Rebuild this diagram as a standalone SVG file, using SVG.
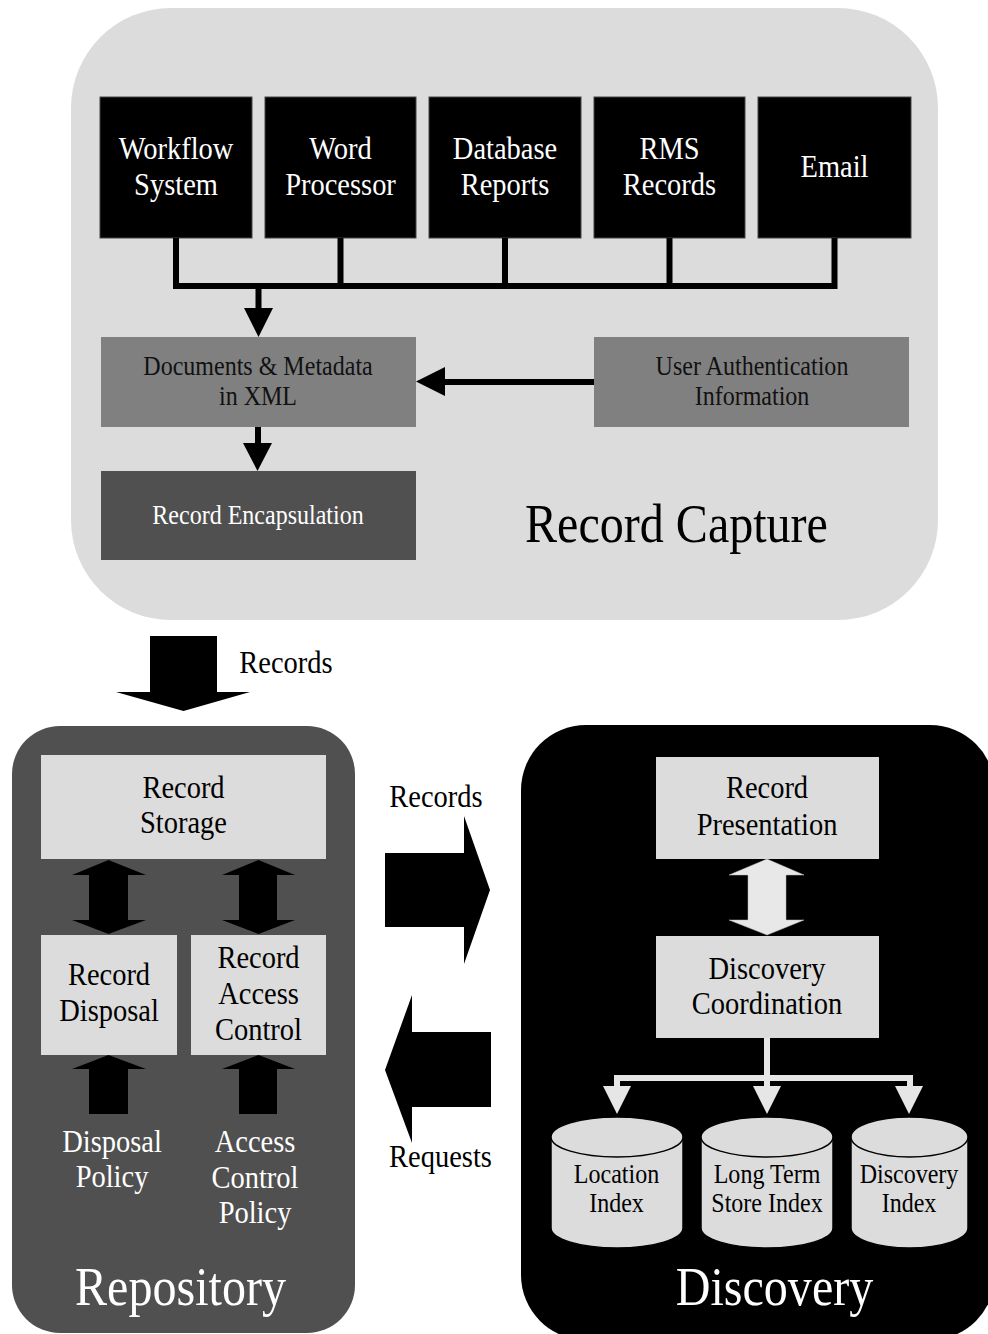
<svg xmlns="http://www.w3.org/2000/svg" width="988" height="1334" viewBox="0 0 988 1334">
<style>
.t{font-family:"Liberation Serif","Times New Roman",serif;text-anchor:middle}
.s27{font-size:27px}.s32{font-size:32px}.s54{font-size:54px}
.w{fill:#ffffff}.k{fill:#000000}.dk{fill:#111111}
.blk{fill:#000000;stroke:#444444;stroke-width:1}
.mid{fill:#808080}.drk{fill:#505050}.lt{fill:#dcdcdc}
.ln{fill:none;stroke:#000000;stroke-width:6}
.wl{fill:none;stroke:#e6e6e6;stroke-width:6}
.ah{fill:#000000}.wah{fill:#e6e6e6}
.cyl{fill:#dcdcdc;stroke:#000000;stroke-width:1.5}
</style>
<rect width="988" height="1334" fill="#ffffff"/>
<g id="record-capture">
<rect x="71" y="8" width="867" height="612" rx="100" ry="100" fill="#dcdcdc"/>
<text class="t s54 k" transform="translate(676.5 0) scale(.89 1)" y="542">Record Capture</text>
</g>
<g id="repository">
<rect x="12" y="726" width="343" height="607" rx="48" ry="48" fill="#505050"/>
<text class="t s54 w" transform="translate(180.5 0) scale(.89 1)" y="1305">Repository</text>
</g>
<g id="discovery">
<rect x="521" y="725" width="474" height="615" rx="65" ry="65" fill="#000000"/>
<text class="t s54 w" transform="translate(774.5 0) scale(.89 1)" y="1305">Discovery</text>
</g>
<g id="workflow"><rect class="blk" x="100" y="97" width="152" height="141"/>
<text class="t s32 w" transform="translate(176 0) scale(.89 1)"><tspan x="0" y="159">Workflow</tspan><tspan x="0" y="195">System</tspan></text></g>
<g id="word"><rect class="blk" x="265" y="97" width="151" height="141"/>
<text class="t s32 w" transform="translate(340.5 0) scale(.89 1)"><tspan x="0" y="159">Word</tspan><tspan x="0" y="195">Processor</tspan></text></g>
<g id="database"><rect class="blk" x="429" y="97" width="152" height="141"/>
<text class="t s32 w" transform="translate(505 0) scale(.89 1)"><tspan x="0" y="159">Database</tspan><tspan x="0" y="195">Reports</tspan></text></g>
<g id="rms"><rect class="blk" x="594" y="97" width="151" height="141"/>
<text class="t s32 w" transform="translate(669.5 0) scale(.89 1)"><tspan x="0" y="159">RMS</tspan><tspan x="0" y="195">Records</tspan></text></g>
<g id="email"><rect class="blk" x="758" y="97" width="153" height="141"/>
<text class="t s32 w" transform="translate(834.5 0) scale(.89 1)" y="177">Email</text></g>
<g id="documents"><rect class="mid" x="101" y="337" width="315" height="90"/>
<text class="t s27 dk" transform="translate(258 0) scale(.89 1)"><tspan x="0" y="375">Documents &amp; Metadata</tspan><tspan x="0" y="405">in XML</tspan></text></g>
<g id="user-auth"><rect class="mid" x="594" y="337" width="315" height="90"/>
<text class="t s27 dk" transform="translate(752 0) scale(.89 1)"><tspan x="0" y="375">User Authentication</tspan><tspan x="0" y="405">Information</tspan></text></g>
<g id="encapsulation"><rect class="drk" x="101" y="471" width="315" height="89"/>
<text class="t s27 w" transform="translate(258 0) scale(.89 1)" y="524">Record Encapsulation</text></g>
<g id="record-storage"><rect class="lt" x="41" y="755" width="285" height="104"/>
<text class="t s32 k" transform="translate(183.5 0) scale(.89 1)"><tspan x="0" y="798">Record</tspan><tspan x="0" y="833">Storage</tspan></text></g>
<g id="record-disposal"><rect class="lt" x="41" y="935" width="136" height="120"/>
<text class="t s32 k" transform="translate(109 0) scale(.89 1)"><tspan x="0" y="985">Record</tspan><tspan x="0" y="1021">Disposal</tspan></text></g>
<g id="record-access"><rect class="lt" x="191" y="935" width="135" height="120"/>
<text class="t s32 k" transform="translate(258.5 0) scale(.89 1)"><tspan x="0" y="968">Record</tspan><tspan x="0" y="1004">Access</tspan><tspan x="0" y="1040">Control</tspan></text></g>
<g id="disposal-policy">
<text class="t s32 w" transform="translate(112 0) scale(.89 1)"><tspan x="0" y="1152">Disposal</tspan><tspan x="0" y="1187">Policy</tspan></text></g>
<g id="access-policy">
<text class="t s32 w" transform="translate(255 0) scale(.89 1)"><tspan x="0" y="1152">Access</tspan><tspan x="0" y="1188">Control</tspan><tspan x="0" y="1223">Policy</tspan></text></g>
<g id="record-presentation"><rect class="lt" x="656" y="757" width="223" height="102"/>
<text class="t s32 k" transform="translate(767 0) scale(.89 1)"><tspan x="0" y="798">Record</tspan><tspan x="0" y="835">Presentation</tspan></text></g>
<g id="discovery-coordination"><rect class="lt" x="656" y="936" width="223" height="102"/>
<text class="t s32 k" transform="translate(767 0) scale(.89 1)"><tspan x="0" y="979">Discovery</tspan><tspan x="0" y="1014">Coordination</tspan></text></g>
<g id="location-index">
<path class="cyl" d="M551 1137 V1228 A66 20 0 0 0 683 1228 V1137"/>
<ellipse class="cyl" cx="617" cy="1137" rx="66" ry="20"/>
<text class="t s27 k" transform="translate(616.5 0) scale(.89 1)"><tspan x="0" y="1183">Location</tspan><tspan x="0" y="1212">Index</tspan></text></g>
<g id="long-term-index">
<path class="cyl" d="M701 1137 V1228 A66 20 0 0 0 833 1228 V1137"/>
<ellipse class="cyl" cx="767" cy="1137" rx="66" ry="20"/>
<text class="t s27 k" transform="translate(767 0) scale(.89 1)"><tspan x="0" y="1183">Long Term</tspan><tspan x="0" y="1212">Store Index</tspan></text></g>
<g id="discovery-index">
<path class="cyl" d="M851 1137 V1228 A58.5 20 0 0 0 968 1228 V1137"/>
<ellipse class="cyl" cx="909.5" cy="1137" rx="58.5" ry="20"/>
<text class="t s27 k" transform="translate(909 0) scale(.89 1)"><tspan x="0" y="1183">Discovery</tspan><tspan x="0" y="1212">Index</tspan></text></g>
<g id="labels">
<text class="t s32 k" transform="translate(286 0) scale(.89 1)" y="673">Records</text>
<text class="t s32 k" transform="translate(436 0) scale(.89 1)" y="807">Records</text>
<text class="t s32 k" transform="translate(440.5 0) scale(.89 1)" y="1167">Requests</text>
</g>
<g id="connectors">
<path class="ln" d="M176 238V286 M340.5 238V286 M505 238V286 M669.5 238V286 M834.5 238V286 M173 286H837.5 M258.5 286V310"/>
<polygon class="ah" points="244,308 273,308 258.5,337"/>
<path class="ln" d="M258 427V445"/>
<polygon class="ah" points="243,443 272,443 257.5,471"/>
<path class="ln" d="M594 382H443"/>
<polygon class="ah" points="445,367 445,396 416,381.5"/>
<polygon class="ah" points="150,636 217,636 217,692 250,692 183.5,711 116,692 150,692"/>
<polygon class="ah" points="108.5,860 146,875 128,875 128,920 146,920 108.5,934 72,920 89,920 89,875 72,875"/>
<polygon class="ah" points="258.5,860 295,875 277,875 277,920 295,920 258.5,934 222,920 239,920 239,875 222,875"/>
<polygon class="ah" points="108.5,1055 146,1069 128,1069 128,1114 89,1114 89,1069 72,1069"/>
<polygon class="ah" points="258.5,1055 295,1069 277,1069 277,1114 239,1114 239,1069 222,1069"/>
<polygon class="ah" points="385,853 464,853 464,816 490,890 464,964 464,927 385,927"/>
<polygon class="ah" points="491,1032 412,1032 412,995 385,1070 412,1143 412,1107 491,1107"/>
<polygon points="767,859 804,875 786,875 786,920 804,920 767,935 729,920 748,920 748,875 729,875" fill="#e8e8e8" stroke="#bbbbbb" stroke-width="0.5"/>
<path class="wl" d="M767 1038V1088 M617 1088V1078H910V1088"/>
<polygon class="wah" points="603,1086 631,1086 617,1114"/>
<polygon class="wah" points="753,1086 781,1086 767,1114"/>
<polygon class="wah" points="895,1086 923,1086 909,1114"/>
</g>
</svg>
